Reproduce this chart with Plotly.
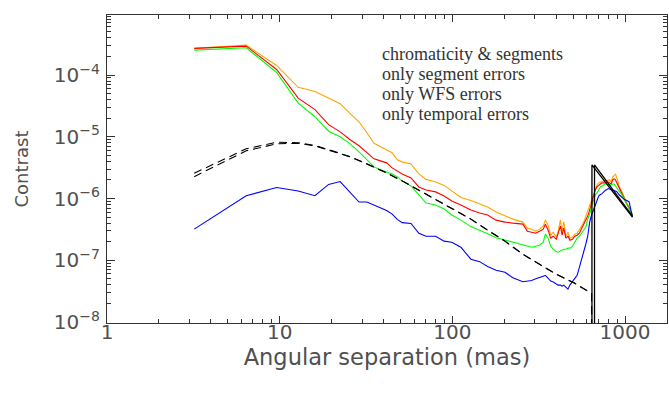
import plotly.graph_objects as go

# ---- data ----
sep = [3.2, 6.4, 9.6, 12.8, 16, 19.2, 22.4, 25.6, 28.8, 32, 35.2, 38.4, 41.6, 44.8, 48, 51.2,
       57.6, 64, 70.4, 80, 89.6, 99.2, 112, 128, 144, 160, 179.2, 201.6, 224, 256,
       272, 288, 304, 320, 336, 345.6, 358.4, 371.2, 384, 400,
       409.6, 422.4, 432, 441.6, 454.4, 467.2, 480, 496, 512, 528,
       544, 560, 576, 592, 608, 624, 640, 656, 672, 688,
       704, 720, 736, 768, 800, 816, 832, 848, 864, 880,
       896, 928, 960, 992, 1024, 1056, 1088, 1104]

chrom_segments = [2.70e-4, 3.05e-4, 1.43e-4, 6.33e-5, 5.39e-5, 4.23e-5, 3.44e-5, 2.37e-5, 1.75e-5, 1.16e-5,
                  7.84e-6, 6.87e-6, 6.15e-6, 5.50e-6, 4.23e-6, 3.92e-6,
                  3.64e-6, 2.50e-6, 2.04e-6, 1.85e-6, 1.63e-6, 1.32e-6, 1.04e-6, 9.27e-7, 8.14e-7, 7.27e-7,
                  6.03e-7, 5.19e-7, 4.64e-7, 4.15e-7,
                  3.31e-7, 3.19e-7, 2.96e-7, 3.19e-7, 3.57e-7, 4.47e-7, 3.71e-7, 2.55e-7, 2.85e-7, 2.37e-7,
                  2.96e-7, 4.47e-7, 2.85e-7, 4.20e-7, 2.45e-7, 2.85e-7, 2.28e-7, 2.37e-7, 2.65e-7, 2.74e-7,
                  3.07e-7, 3.57e-7, 4.15e-7, 5.19e-7, 6.03e-7, 7.55e-7, 9.46e-7, 1.18e-6, 1.43e-6, 1.66e-6,
                  1.79e-6, 1.85e-6, 1.89e-6, 1.93e-6, 2.00e-6, 2.00e-6, 1.85e-6, 2.24e-6, 2.32e-6, 2.50e-6,
                  2.17e-6, 1.54e-6, 1.28e-6, 1.02e-6, 8.45e-7, 7.27e-7, 6.03e-7, 5.40e-7]

segment_only = [2.70e-4, 2.94e-4, 1.23e-4, 4.23e-5, 2.75e-5, 1.57e-5, 1.20e-5, 8.93e-6, 7.14e-6, 5.50e-6,
                4.39e-6, 4.07e-6, 3.78e-6, 3.13e-6, 2.80e-6, 2.50e-6,
                2.15e-6, 1.54e-6, 1.37e-6, 1.28e-6, 1.10e-6, 9.10e-7, 7.83e-7, 6.50e-7, 5.81e-7, 5.40e-7,
                4.47e-7, 4.15e-7, 4.00e-7, 3.85e-7,
                2.96e-7, 2.85e-7, 2.74e-7, 2.96e-7, 3.19e-7, 3.85e-7, 3.07e-7, 2.28e-7, 2.45e-7, 2.19e-7,
                2.65e-7, 3.57e-7, 2.55e-7, 3.31e-7, 2.28e-7, 2.45e-7, 2.11e-7, 2.19e-7, 2.45e-7, 2.55e-7,
                2.74e-7, 3.19e-7, 3.71e-7, 4.47e-7, 5.19e-7, 6.50e-7, 8.45e-7, 1.10e-6, 1.37e-6, 1.54e-6,
                1.66e-6, 1.72e-6, 1.79e-6, 1.79e-6, 1.85e-6, 1.79e-6, 1.72e-6, 2.00e-6, 2.08e-6, 2.00e-6,
                1.79e-6, 1.43e-6, 1.18e-6, 9.46e-7, 8.14e-7, 7.00e-7, 6.03e-7, 5.40e-7]

wfs_only = [2.53e-4, 2.77e-4, 1.10e-4, 3.51e-5, 2.11e-5, 1.23e-5, 1.00e-5, 7.69e-6, 5.70e-6, 4.23e-6,
            3.25e-6, 2.91e-6, 2.70e-6, 2.50e-6, 2.24e-6, 1.93e-6,
            1.60e-6, 1.13e-6, 8.45e-7, 7.83e-7, 6.75e-7, 5.40e-7, 4.47e-7, 3.51e-7, 3.07e-7, 2.70e-7,
            2.32e-7, 2.11e-7, 1.96e-7, 1.79e-7,
            1.69e-7, 1.63e-7, 1.69e-7, 1.75e-7, 1.96e-7, 2.65e-7, 2.28e-7, 1.69e-7, 1.51e-7, 1.37e-7,
            1.35e-7, 1.40e-7, 1.46e-7, 1.51e-7, 1.51e-7, 1.57e-7, 1.57e-7, 1.69e-7, 1.96e-7, 2.28e-7,
            2.45e-7, 2.74e-7, 3.07e-7, 3.43e-7, 4.64e-7, 5.60e-7, 7.55e-7, 9.82e-7, 1.14e-6, 1.23e-6,
            1.37e-6, 1.54e-6, 1.60e-6, 1.72e-6, 1.72e-6, 1.66e-6, 1.66e-6, 1.72e-6, 1.72e-6, 1.60e-6,
            1.48e-6, 1.32e-6, 1.14e-6, 9.46e-7, 8.14e-7, 7.00e-7, 6.03e-7, 5.40e-7]

temporal_only = [3.19e-7, 1.11e-6, 1.51e-6, 1.32e-6, 1.11e-6, 1.69e-6, 1.88e-6, 1.28e-6, 8.77e-7, 8.77e-7,
                 7.83e-7, 7.01e-7, 6.38e-7, 5.60e-7, 4.60e-7, 4.07e-7,
                 3.95e-7, 2.74e-7, 2.45e-7, 2.45e-7, 2.04e-7, 1.96e-7, 1.63e-7, 1.04e-7, 9.5e-8, 7.9e-8,
                 6.9e-8, 6.4e-8, 5.2e-8, 4.5e-8,
                 4.6e-8, 4.7e-8, 5.0e-8, 5.2e-8, 5.5e-8, 5.7e-8, 5.1e-8, 4.6e-8, 4.45e-8, 4.2e-8,
                 3.95e-8, 3.95e-8, 3.8e-8, 3.95e-8, 3.65e-8, 3.4e-8, 4.0e-8, 4.6e-8, 5.1e-8, 5.7e-8,
                 7.6e-8, 1.0e-7, 1.3e-7, 1.8e-7, 2.45e-7, 4.15e-7, 5.4e-7, 6.5e-7, 7.8e-7, 9.5e-7,
                 1.10e-6, 1.16e-6, 1.20e-6, 1.35e-6, 1.45e-6, 1.43e-6, 1.37e-6, 1.35e-6, 1.35e-6, 1.32e-6,
                 1.29e-6, 1.14e-6, 1.04e-6, 9.6e-7, 9.3e-7, 8.8e-7, 6.0e-7, 5.0e-7]

# dashed reference curves; last point = 0 (off scale)
dash_sep = [3.2, 6.4, 9.6, 12.8, 16, 19.2, 25.6, 32, 41.6, 51.2, 64, 80, 99.2, 128, 160,
            201.6, 256, 320, 400, 512, 640, 643.2]
dash_a = [2.26e-6, 5.92e-6, 7.69e-6, 7.84e-6, 7.14e-6, 6.15e-6, 4.73e-6, 3.64e-6, 2.60e-6, 1.93e-6,
          1.37e-6, 9.63e-7, 6.88e-7, 4.64e-7, 3.07e-7, 2.04e-7, 1.25e-7, 8.61e-8, 5.92e-8, 4.23e-8,
          2.90e-8, 1e-12]
dash_b = [2.57e-6, 6.38e-6, 8.15e-6, 8.00e-6, 7.20e-6, 6.20e-6, 4.75e-6, 3.65e-6, 2.60e-6, 1.93e-6,
          1.37e-6, 9.63e-7, 6.88e-7, 4.64e-7, 3.07e-7, 2.04e-7, 1.25e-7, 8.61e-8, 5.92e-8, 4.23e-8,
          2.90e-8, 1e-12]
# solid black parts beyond the control radius
solid_a_sep = [643.2, 643.2, 1104]
solid_a = [1e-12, 3.5e-6, 5.0e-7]
solid_b_sep = [665.6, 665.6, 1104]
solid_b = [1e-12, 3.5e-6, 5.2e-7]

legend_lines = ["chromaticity & segments", "only segment errors", "only WFS errors", "only temporal errors"]

y_ticks = [1e-8, 1e-7, 1e-6, 1e-5, 1e-4, 1e-3]
y_ticktext = ["10<sup>\u22128</sup>", "10<sup>\u22127</sup>", "10<sup>\u22126</sup>",
              "10<sup>\u22125</sup>", "10<sup>\u22124</sup>", "10<sup>\u22123</sup>"]
x_ticks = [1, 10, 100, 1000]
x_ticktext = ["1", "10", "100", "1000"]

# ---- figure ----
fig = go.Figure()
lw = 1.1
fig.add_trace(go.Scatter(x=sep, y=chrom_segments, mode="lines", line=dict(color="#FFA500", width=lw)))
fig.add_trace(go.Scatter(x=sep, y=segment_only, mode="lines", line=dict(color="#FF0000", width=lw)))
fig.add_trace(go.Scatter(x=sep, y=wfs_only, mode="lines", line=dict(color="#00FF00", width=lw)))
fig.add_trace(go.Scatter(x=sep, y=temporal_only, mode="lines", line=dict(color="#0000FF", width=lw)))
fig.add_trace(go.Scatter(x=dash_sep, y=dash_a, mode="lines", line=dict(color="black", width=1.1, dash="8px,5px")))
fig.add_trace(go.Scatter(x=dash_sep, y=dash_b, mode="lines", line=dict(color="black", width=1.1, dash="8px,5px")))
fig.add_trace(go.Scatter(x=solid_a_sep, y=solid_a, mode="lines", line=dict(color="black", width=1.3)))
fig.add_trace(go.Scatter(x=solid_b_sep, y=solid_b, mode="lines", line=dict(color="black", width=1.3)))

minor_x = [d * m for d in (1, 10, 100, 1000) for m in range(2, 10)]
minor_y = [d * m for d in (1e-9, 1e-8, 1e-7, 1e-6, 1e-5, 1e-4) for m in range(2, 10)]

axis_col = "#333333"
txt_col = "#505050"
tick_font = dict(family="DejaVu Sans", size=20, color=txt_col)

fig.update_xaxes(type="log", range=[0, 3.243], tickmode="array", tickvals=x_ticks, ticktext=x_ticktext,
                 ticks="inside", ticklen=7, tickcolor=axis_col, tickwidth=1,
                 showline=True, linecolor=axis_col, linewidth=1.2, mirror="ticks",
                 showgrid=False, zeroline=False, tickfont=tick_font, ticklabelstandoff=-9,
                 minor=dict(tickmode="array", tickvals=minor_x, ticks="inside", ticklen=4,
                            tickcolor=axis_col, showgrid=False),
                 title=dict(text="Angular separation (mas)", font=dict(family="DejaVu Sans", size=22.5, color=txt_col),
                            standoff=0))
fig.update_yaxes(type="log", range=[-8.016, -3.028], tickmode="array", tickvals=y_ticks, ticktext=y_ticktext,
                 ticks="inside", ticklen=8, tickcolor=axis_col, tickwidth=1,
                 showline=True, linecolor=axis_col, linewidth=1.2, mirror="ticks",
                 showgrid=False, zeroline=False, tickfont=tick_font, ticklabelstandoff=2,
                 minor=dict(tickmode="array", tickvals=minor_y, ticks="inside", ticklen=4,
                            tickcolor=axis_col, showgrid=False),
                 title=dict(text="Contrast", font=dict(family="DejaVu Sans", size=18, color=txt_col),
                            standoff=20))

legend_y = [0.8734, 0.8084, 0.7435, 0.6786]
for txt, yy in zip(legend_lines, legend_y):
    fig.add_annotation(text=txt, xref="paper", yref="paper", x=0.488, y=yy,
                       xanchor="left", yanchor="middle", showarrow=False,
                       font=dict(family="Liberation Serif", size=18, color="#333333"))

fig.update_layout(width=669, height=394, margin=dict(l=107, r=2, t=15, b=71),
                  plot_bgcolor="white", paper_bgcolor="white", showlegend=False)

fig.write_html("out.html")
